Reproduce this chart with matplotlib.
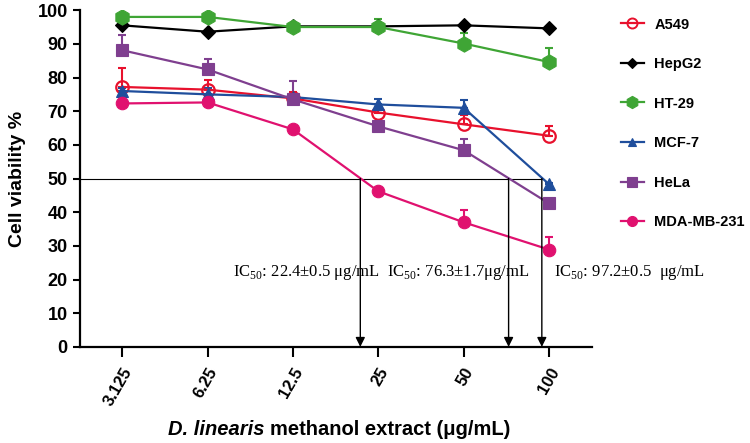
import matplotlib.pyplot as plt
from matplotlib.lines import Line2D

plt.rcParams['font.family'] = ['Liberation Sans', 'DejaVu Sans']
plt.rcParams['mathtext.fontset'] = 'custom'
plt.rcParams['mathtext.rm'] = 'Liberation Serif'

# concentrations (ug/mL)
conc = [3.125, 6.25, 12.5, 25, 50, 100]
conc_labels = ['3.125', '6.25', '12.5', '25', '50', '100']

# cell viability % per cell line, and upper error
a549 = [77.2, 76.4, 73.8, 69.6, 66.1, 62.7]
a549_err = [5.7, 3.0, 2.0, 1.5, 2.7, 2.9]
hepg2 = [95.5, 93.6, 95.2, 95.2, 95.5, 94.6]
hepg2_err = [1.0, 0.5, 0.5, 0.5, 0.5, 0.5]
ht29 = [98.0, 98.0, 95.0, 95.0, 90.1, 84.6]
ht29_err = [0.5, 0.5, 1.0, 2.5, 3.0, 4.2]
mcf7 = [76.0, 75.0, 74.2, 72.0, 71.0, 48.3]
mcf7_err = [0.8, 2.0, 1.0, 1.5, 2.3, 0.5]
hela = [88.1, 82.4, 73.5, 65.5, 58.4, 42.6]
hela_err = [4.5, 3.2, 5.4, 1.0, 3.2, 1.0]
mda = [72.3, 72.6, 64.6, 46.2, 37.0, 28.9]
mda_err = [0.5, 0.5, 0.5, 0.5, 3.8, 3.6]

# IC50 annotations: where the arrows point and labels
ic50_conc = [21.6, 72.0, 94.3]
ic50_text = ['IC$_{50}$: 22.4\u00b10.5 \u03bcg/mL',
             'IC$_{50}$: 76.3\u00b11.7\u03bcg/mL',
             'IC$_{50}$: 97.2\u00b10.5  \u03bcg/mL']
ic50_text_x = [7.7, 26.9, 104.0]

series = [
    ('A549', a549, a549_err, '#e8112d', 'o', 'none', 9),
    ('HepG2', hepg2, hepg2_err, '#000000', 'D', 'full', 7),
    ('HT-29', ht29, ht29_err, '#3fa535', 'h', 'full', 11),
    ('MCF-7', mcf7, mcf7_err, '#1f4e9c', '^', 'full', 8),
    ('HeLa', hela, hela_err, '#7f3f8f', 's', 'full', 9),
    ('MDA-MB-231', mda, mda_err, '#e0116f', 'o', 'full', 9),
]

fig = plt.figure(figsize=(7.5, 4.43), dpi=100)
ax = fig.add_axes([0.106, 0.217, 0.683, 0.760])

handles = []
for name, vals, err, col, mk, fill, ms in series:
    ax.errorbar(conc, vals, yerr=[[0] * len(err), err], fmt='none',
                ecolor=col, elinewidth=1.5, capsize=3, capthick=1.5, zorder=2)
    ax.plot(conc, vals, color=col, lw=1.6, marker=mk, ms=ms,
            fillstyle=fill, markeredgewidth=1.6 if fill == 'none' else 0.8,
            zorder=3)
    handles.append(Line2D([], [], color=col, lw=1.6, marker=mk,
                          ms=ms * 0.8, fillstyle=fill,
                          markeredgewidth=1.4 if fill == 'none' else 0.8))

ax.set_xscale('log', base=2)
ax.set_xlim(3.125 / 2 ** 0.5, 100 * 2 ** 0.5)
ax.set_ylim(0, 100)
ax.set_xticks(conc)
ax.set_xticklabels(conc_labels, rotation=60, ha='right', va='top',
                   rotation_mode='anchor', fontsize=12, fontweight='bold')
ax.minorticks_off()
ax.set_yticks(range(0, 101, 10))
ax.tick_params(axis='y', labelsize=13, width=1.5, length=5)
ax.tick_params(axis='x', width=1.5, length=7, pad=6)
for lab in ax.get_yticklabels():
    lab.set_fontweight('bold')

for s in ['top', 'right']:
    ax.spines[s].set_visible(False)
for s in ['left', 'bottom']:
    ax.spines[s].set_linewidth(1.6)

# 50% line and IC50 arrows
ax.plot([ax.get_xlim()[0], max(ic50_conc)], [50, 50], color='black', lw=0.8,
        zorder=1)
for xc in ic50_conc:
    ax.annotate('', xy=(xc, 0), xytext=(xc, 50),
                arrowprops=dict(arrowstyle='-|>', color='black', lw=1.0,
                                mutation_scale=14, shrinkA=0, shrinkB=0))
for tx, t in zip(ic50_text_x, ic50_text):
    ax.text(tx, 22, t, fontsize=12, family='Liberation Serif',
            va='center', ha='left', clip_on=False)

ax.set_ylabel('Cell viability %', fontsize=14, fontweight='bold', labelpad=8)
fig.text(0.360, 0.03, 'methanol extract (\u03bcg/mL)', fontsize=14.5,
         fontweight='bold', ha='left', va='center')
fig.text(0.360, 0.03, 'D. linearis ', fontsize=14.5, fontweight='bold',
         style='italic', ha='right', va='center')

fig.legend(handles, [s[0] for s in series], loc='upper left',
           bbox_to_anchor=(0.81, 0.99), frameon=False,
           prop={'weight': 'bold', 'size': 10.5}, labelspacing=1.75,
           handlelength=1.6, handletextpad=0.7)

fig.savefig('out.png', dpi=100)
